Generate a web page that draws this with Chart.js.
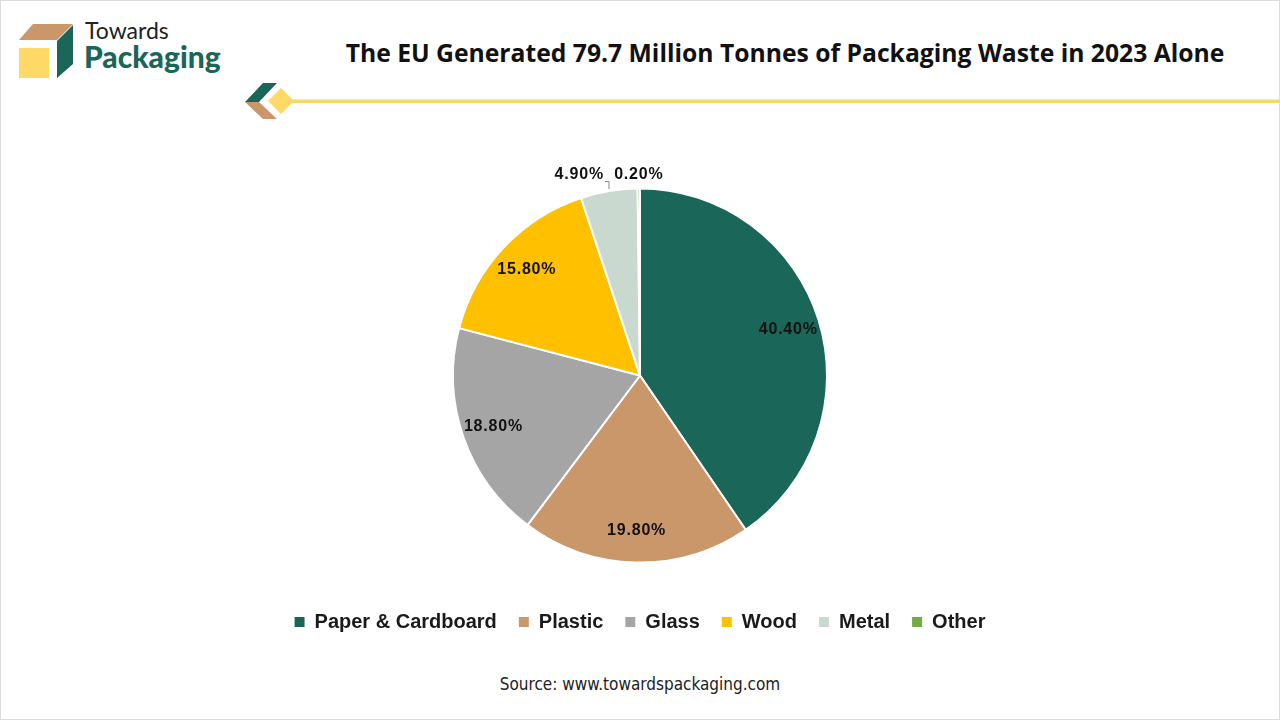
<!DOCTYPE html>
<html lang="en">
<head>
<meta charset="utf-8" />
<title>EU packaging waste 2023</title>
<script src="https://cdn.jsdelivr.net/npm/chart.js@4.4.0/dist/chart.umd.min.js"></script>
<style>
  html, body { margin: 0; padding: 0; background: #fff; }
  body { width: 1280px; height: 720px; position: relative; overflow: hidden; font-family: "Liberation Sans", Arial, sans-serif; }
  .frame { position: absolute; left: 0; top: 0; width: 1278px; height: 718px; border: 1px solid #dcdcdc; }
  .logo { position: absolute; left: 0; top: 0; }
  .brand1 { position: absolute; left: 85px; top: 19px; font: 400 23px Lato, "Noto Sans", sans-serif; color: #222; line-height: 1; }
  .brand2 { position: absolute; left: 84px; top: 41px; font: 900 30px Lato, "Noto Sans", sans-serif; color: #1a6658; line-height: 1; }
  .title { position: absolute; left: 785px; top: 41px; transform: translateX(-50%); white-space: nowrap;
           font: 700 24.7px "Open Sans", sans-serif; color: #111; line-height: 1; }
  .source { position: absolute; left: 640px; top: 676px; transform: translateX(-50%); white-space: nowrap;
            font: 17px "Liberation Sans Narrow", "DejaVu Sans Condensed", sans-serif; color: #222; line-height: 1; }
  #wrap { position: absolute; left: 4px; top: 140px; width: 1280px; height: 520px; }
</style>
</head>
<body>
<div class="frame"></div>

<svg class="logo" width="1280" height="130">
  <!-- cube mark -->
  <polygon points="19,40 33,24 73,24 57,40" fill="#c9976a" />
  <rect x="19" y="48" width="30" height="30" fill="#ffd966" />
  <polygon points="57,41 73,25 73,64 57,78" fill="#1a6658" />
  <!-- divider ornament -->
  <polygon points="245,102 263,83 277,83 259,102" fill="#1a6658" />
  <polygon points="245,102 259,102 277,119 263,119" fill="#c9976a" />
  <rect x="287" y="99.5" width="993" height="3.5" fill="#f6d76c" />
  <polygon points="281,88 294,101 281,114 268,101" fill="#ffd966" />
</svg>
<div class="brand1">Towards</div>
<div class="brand2">Packaging</div>

<div class="title">The EU Generated 79.7 Million Tonnes of Packaging Waste in 2023 Alone</div>

<div id="wrap"><canvas id="pie"></canvas></div>

<div class="source">Source: www.towardspackaging.com</div>

<script>
  // share of EU packaging waste by material, 2023 (%)
  var materials = ["Paper & Cardboard", "Plastic", "Glass", "Wood", "Metal", "Other"];
  var shares = [40.4, 19.8, 18.8, 15.8, 4.9, 0.2];
  var colors = ["#1a6658", "#c9976a", "#a5a5a5", "#ffc000", "#c9d9cf", "#70ad47"];

  // percentage labels: inside for big slices, above the pie for small ones
  var sliceLabels = {
    id: "sliceLabels",
    afterDatasetsDraw: function (chart) {
      var ctx = chart.ctx;
      var meta = chart.getDatasetMeta(0);
      ctx.save();
      ctx.font = 'bold 16px "Liberation Sans", Arial, sans-serif';
      ctx.letterSpacing = "0.8px";
      ctx.fillStyle = "#111";
      ctx.textBaseline = "middle";
      meta.data.forEach(function (arc, i) {
        var p = arc.getProps(["x", "y", "startAngle", "endAngle", "outerRadius"], true);
        var mid = (p.startAngle + p.endAngle) / 2;
        var text = shares[i].toFixed(2) + "%";
        var R = p.outerRadius;
        if (shares[i] >= 10) {
          var r = R * 0.83;
          ctx.textAlign = "center";
          ctx.fillText(text, p.x + Math.cos(mid) * r, p.y + Math.sin(mid) * r);
        } else {
          var ex = p.x + Math.cos(mid) * R;
          var ey = p.y + Math.sin(mid) * R;
          var ty = p.y - R - 14;
          if (shares[i] >= 1) {
            // leader line up from the slice, then left to the label
            var ly = p.y - R - 7;
            ctx.strokeStyle = "#8c8c8c";
            ctx.lineWidth = 1;
            ctx.beginPath();
            ctx.moveTo(ex, ey - 2);
            ctx.lineTo(ex, ly);
            ctx.lineTo(ex - 4, ly);
            ctx.stroke();
            ctx.textAlign = "right";
            ctx.fillText(text, ex - 5, ty);
          } else {
            ctx.textAlign = "center";
            ctx.fillText(text, ex, ty);
          }
        }
      });
      ctx.restore();
    }
  };

  var ctx = document.getElementById("pie").getContext("2d");
  var chart = new Chart(ctx, {
    type: "pie",
    data: {
      labels: materials,
      datasets: [{
        data: shares,
        backgroundColor: colors,
        borderColor: "#ffffff",
        borderWidth: 2,
        radius: 187
      }]
    },
    options: {
      responsive: true,
      maintainAspectRatio: false,
      animation: false,
      layout: { padding: { top: 21, bottom: 18, left: 0, right: 8 } },
      plugins: {
        tooltip: { enabled: false },
        legend: {
          position: "bottom",
          labels: {
            boxWidth: 10,
            boxHeight: 10,
            padding: 22,
            color: "#1a1a1a",
            font: { size: 20, weight: "bold", family: '"Liberation Sans", Arial, sans-serif' },
            generateLabels: function (c) {
              var items = Chart.controllers.pie.overrides.plugins.legend.labels.generateLabels(c);
              items.forEach(function (it) { it.lineWidth = 0; it.strokeStyle = it.fillStyle; });
              return items;
            }
          }
        }
      }
    },
    plugins: [sliceLabels]
  });
</script>
</body>
</html>
